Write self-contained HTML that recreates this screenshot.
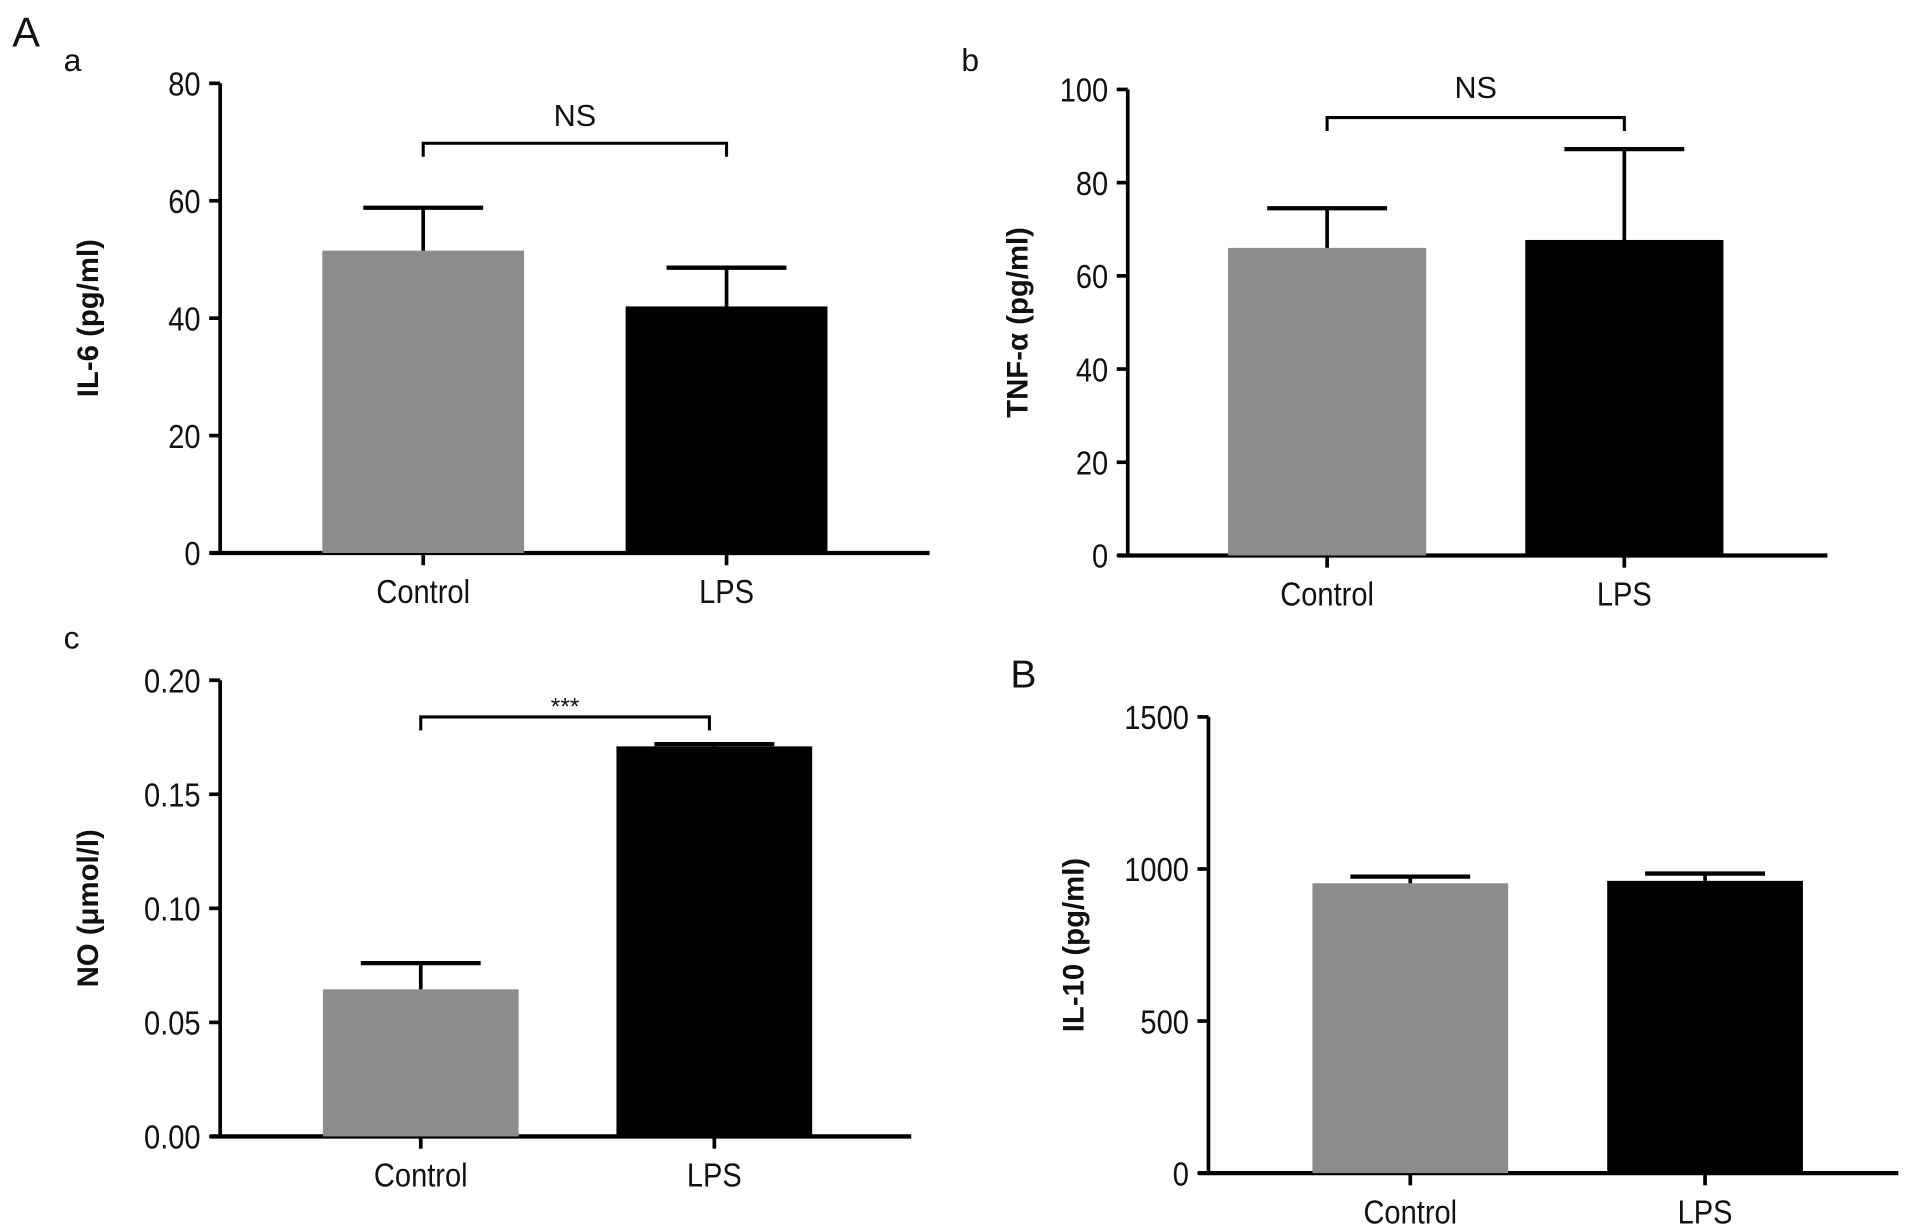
<!DOCTYPE html>
<html><head><meta charset="utf-8"><style>
html,body{margin:0;padding:0;background:#fff;}
svg{display:block;}
text{font-family:"Liberation Sans",sans-serif;fill:#111;}
</style></head><body>
<svg id="fig" width="1913" height="1232" viewBox="0 0 1564 1007" xmlns="http://www.w3.org/2000/svg"></svg>
<script>
const categories = ["Control", "LPS"];
const il6Values = [51.5, 42];
const il6Errors = [58.8, 48.6];
const il6Ticks = ["0", "20", "40", "60", "80"];
const tnfValues = [66, 67.7];
const tnfErrors = [74.5, 87.2];
const tnfTicks = ["0", "20", "40", "60", "80", "100"];
const noValues = [0.0645, 0.171];
const noErrors = [0.076, 0.172];
const noTicks = ["0.00", "0.05", "0.10", "0.15", "0.20"];
const il10Values = [953, 961];
const il10Errors = [975, 985];
const il10Ticks = ["0", "500", "1000", "1500"];

const svg = document.getElementById('fig');
const NS = 'http://www.w3.org/2000/svg';
function mk(tag, attrs, parent, txt){
  const e = document.createElementNS(NS, tag);
  for (const k in attrs) e.setAttribute(k, attrs[k]);
  if (txt !== undefined) e.textContent = txt;
  (parent || svg).appendChild(e);
  return e;
}
const colors = ["#8c8c8c", "#000"];

function panel(cfg){
  const g = mk('g', {});
  
  
  const ticks = cfg.ticks.map(Number);
  const vmax = ticks[ticks.length-1];
  const y = v => cfg.y0 - (v / vmax) * (cfg.y0 - cfg.yTop);
  const ax = mk('line', {x1:cfg.ax, y1:cfg.yTop, x2:cfg.ax, y2:cfg.y0, stroke:'#000','stroke-width':3}, g);
  
  
  const xa = mk('line', {x1:cfg.ax-8, y1:cfg.y0, x2:cfg.xEnd, y2:cfg.y0, stroke:'#000','stroke-width':3.5}, g);
  
  
  cfg.ticks.forEach((t, i) => {
    const yy = y(ticks[i]);
    const tl = mk('line', {x1:cfg.ax-9, y1:yy, x2:cfg.ax, y2:yy, stroke:'#000','stroke-width':3}, g);
    
    
    const tx = mk('text', {x:0, y:0, 'text-anchor':'end','font-size':27, transform:`translate(${cfg.ax-16},${yy+10}) scale(0.88,1)`}, g, t);
    
    
  });
  categories.forEach((c, i) => {
    const cx = cfg.cx[i];
    const b = mk('rect', {x:cx-cfg.bw/2, y:y(cfg.values[i]), width:cfg.bw, height:cfg.y0-y(cfg.values[i]), fill:colors[i]}, g);
    
    
    const ev = mk('line', {x1:cx, y1:y(cfg.values[i]), x2:cx, y2:y(cfg.errors[i]), stroke:'#000','stroke-width':3}, g);
    
    
    const ec = mk('line', {x1:cx-49, y1:y(cfg.errors[i]), x2:cx+49, y2:y(cfg.errors[i]), stroke:'#000','stroke-width':3.5}, g);
    
    
    const xt = mk('line', {x1:cx, y1:cfg.y0, x2:cx, y2:cfg.y0+10, stroke:'#000','stroke-width':3}, g);
    
    
    const xl = mk('text', {x:0, y:0, 'text-anchor':'middle','font-size':27, transform:`translate(${cx},${cfg.y0+41}) scale(0.88,1)`}, g, c);
    
    
  });
  const yl = mk('text', {x:0, y:0, 'text-anchor':'middle','font-size':24,'font-weight':'bold', transform:`translate(${cfg.tx},${(cfg.y0+cfg.yTop)/2}) rotate(-90)`}, g, cfg.title);
  
  
  if (cfg.sig){
    const s = cfg.sig;
    const br = mk('path', {d:`M${cfg.cx[0]},${s.y+11} V${s.y} H${s.x2} V${s.y+11}`, fill:'none', stroke:'#000','stroke-width':2.5}, g);
    
    
    const st = mk('text', {x:(cfg.cx[0]+s.x2)/2, y:s.ty, 'text-anchor':'middle','font-size':s.fs}, g, s.label);
    
    
  }
}

panel({name:'panel-a-il6', ax:180, y0:452, yTop:68, xEnd:760, ticks:il6Ticks, values:il6Values, errors:il6Errors, cx:[346,594], bw:165, title:'IL-6 (pg/ml)', tx:80, sig:{y:117, x2:594, label:'NS', ty:103, fs:25}});
panel({name:'panel-b-tnf', ax:922, y0:454, yTop:73, xEnd:1494, ticks:tnfTicks, values:tnfValues, errors:tnfErrors, cx:[1085,1328], bw:162, title:'TNF-α (pg/ml)', tx:840, sig:{y:96, x2:1328, label:'NS', ty:80, fs:25}});
panel({name:'panel-c-no', ax:180, y0:929, yTop:556, xEnd:745, ticks:noTicks, values:noValues, errors:noErrors, cx:[344,584], bw:160, title:'NO (μmol/l)', tx:80, sig:{y:586, x2:580, label:'***', ty:584, fs:20}});
panel({name:'panel-B-il10', ax:988, y0:959, yTop:586, xEnd:1552, ticks:il10Ticks, values:il10Values, errors:il10Errors, cx:[1153,1394], bw:160, title:'IL-10 (pg/ml)', tx:886});

[['A',10,38,34],['a',52,58,26],['b',786,58,26],['c',52,530,26],['B',826,562,32]].forEach(p => {
  const t = mk('text', {x:p[1], y:p[2], 'font-size':p[3]}, svg, p[0]);
  
  
});
</script>
</body></html>
